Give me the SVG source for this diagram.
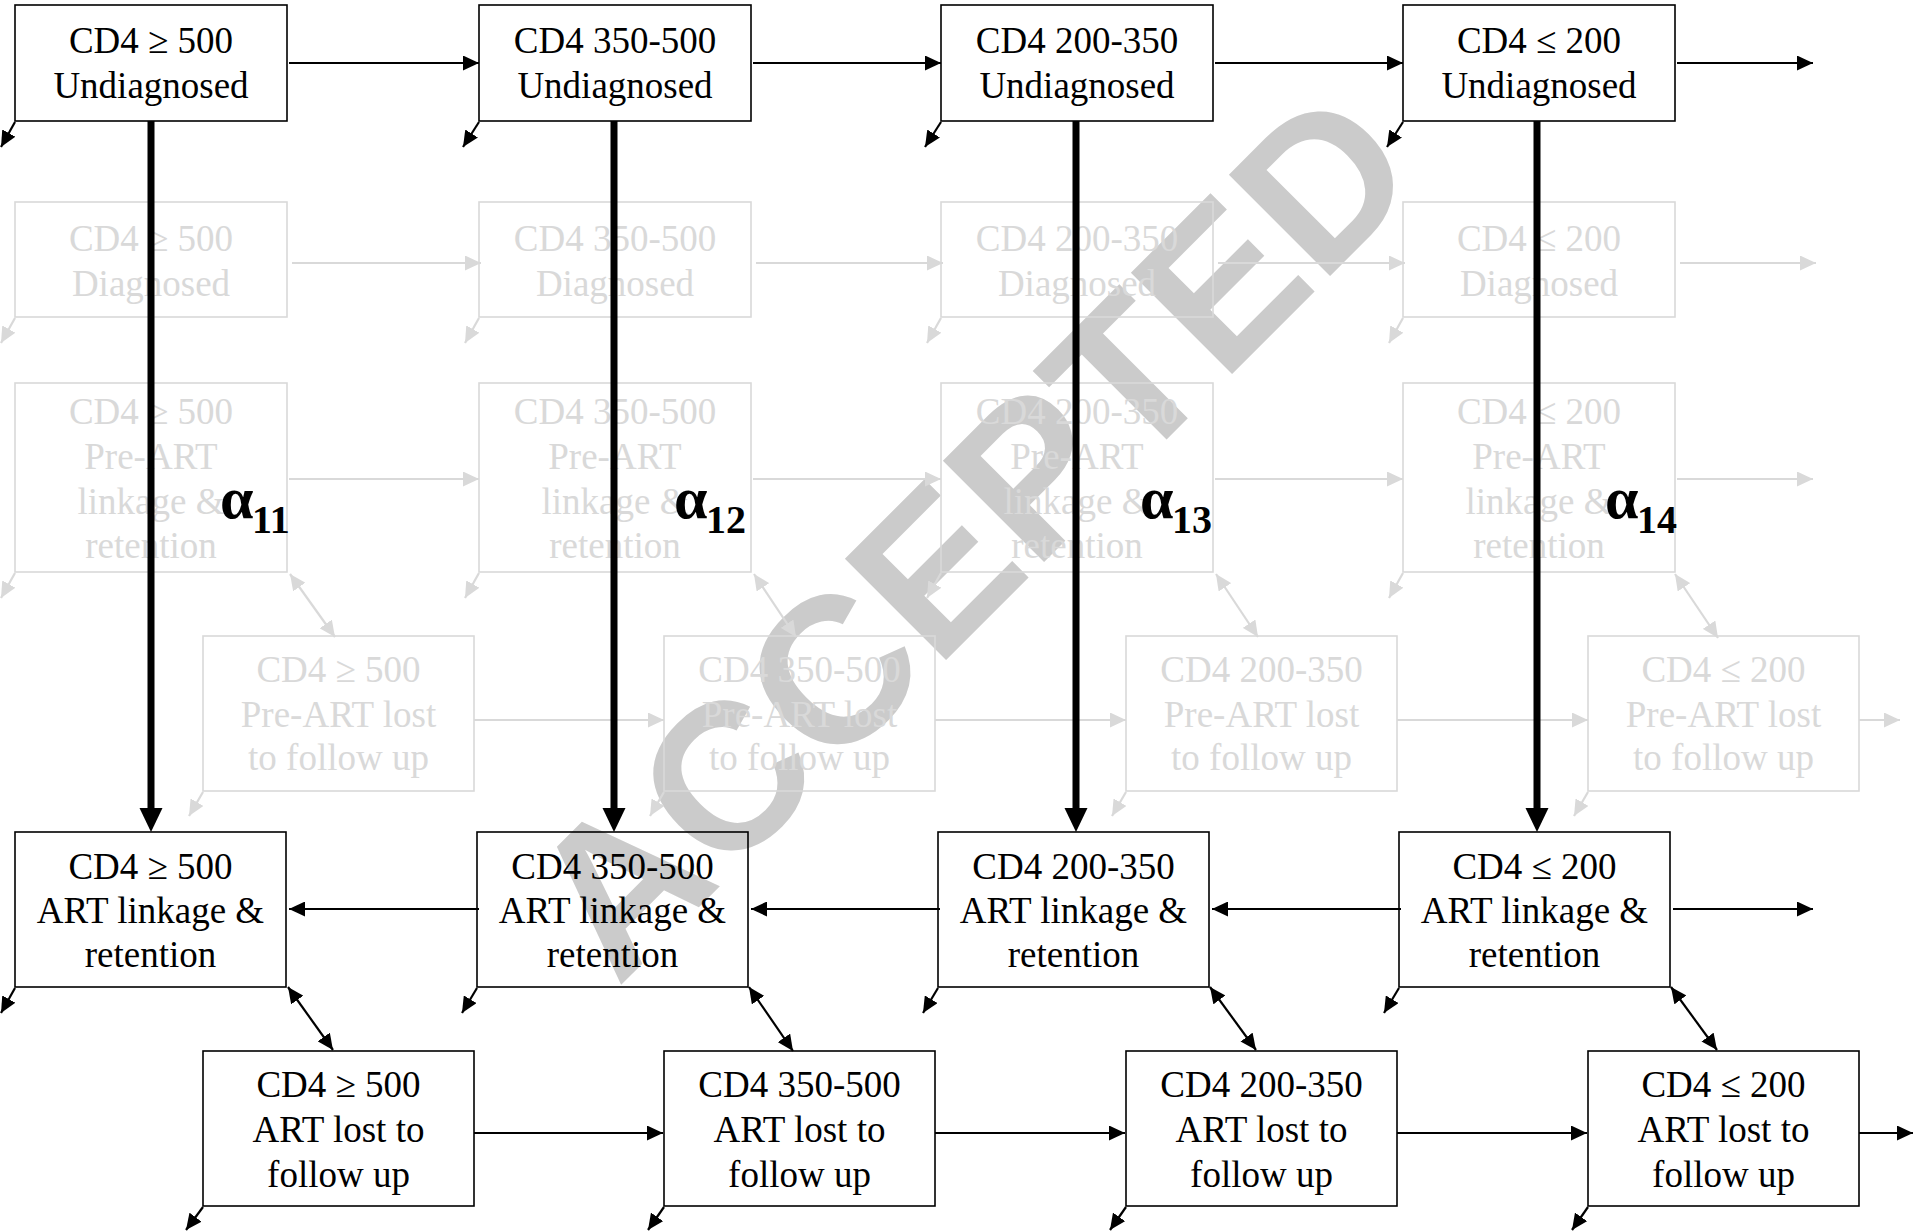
<svg xmlns="http://www.w3.org/2000/svg" width="1917" height="1231" viewBox="0 0 1917 1231">
<style>
  .bx{fill:none;stroke:#000;stroke-width:1.6}
  .fb{fill:none;stroke:#d9d9d9;stroke-width:1.6}
  .t{font-family:"Liberation Serif","Times New Roman",serif;font-size:37px;text-anchor:middle;fill:#000}
  .ft{font-family:"Liberation Serif","Times New Roman",serif;font-size:37px;text-anchor:middle;fill:#d9d9d9}
  .a{stroke:#000;stroke-width:2.2;fill:none;marker-end:url(#ah)}
  .d{stroke:#000;stroke-width:2.2;fill:none;marker-end:url(#ah);marker-start:url(#ah)}
  .ga{stroke:#d9d9d9;stroke-width:2.2;fill:none;marker-end:url(#gh)}
  .gd{stroke:#d9d9d9;stroke-width:2.2;fill:none;marker-end:url(#gh);marker-start:url(#gh)}
  .thick{stroke:#000;stroke-width:7;fill:none}
  .al{font-family:"Liberation Serif","Times New Roman",serif;font-weight:bold;fill:#000}
  .wm{font-family:"Liberation Sans",Arial,sans-serif;font-weight:bold;font-size:208px;text-anchor:middle;fill:#cbcbcb}
</style>
<defs>
  <marker id="ah" markerUnits="userSpaceOnUse" markerWidth="16" markerHeight="15" viewBox="0 0 16 15" refX="16" refY="7.5" orient="auto-start-reverse"><path d="M0,0 L16,7.5 L0,15 z" fill="#000"/></marker>
  <marker id="gh" markerUnits="userSpaceOnUse" markerWidth="16" markerHeight="15" viewBox="0 0 16 15" refX="16" refY="7.5" orient="auto-start-reverse"><path d="M0,0 L16,7.5 L0,15 z" fill="#d9d9d9"/></marker>
</defs>
<rect width="1917" height="1231" fill="#fff"/>
<text class="wm" transform="translate(1022,584) rotate(-45)">ACCEPTED</text>

<g id="faded-nodes">
  <g id="diag1"><rect class="fb" x="15" y="202" width="272" height="115"/><text class="ft" x="151" y="251">CD4 ≥ 500</text><text class="ft" x="151" y="296">Diagnosed</text></g>
  <g id="diag2"><rect class="fb" x="479" y="202" width="272" height="115"/><text class="ft" x="615" y="251">CD4 350-500</text><text class="ft" x="615" y="296">Diagnosed</text></g>
  <g id="diag3"><rect class="fb" x="941" y="202" width="272" height="115"/><text class="ft" x="1077" y="251">CD4 200-350</text><text class="ft" x="1077" y="296">Diagnosed</text></g>
  <g id="diag4"><rect class="fb" x="1403" y="202" width="272" height="115"/><text class="ft" x="1539" y="251">CD4 ≤ 200</text><text class="ft" x="1539" y="296">Diagnosed</text></g>

  <g id="prelink1"><rect class="fb" x="15" y="383" width="272" height="189"/><text class="ft" x="151" y="424">CD4 ≥ 500</text><text class="ft" x="151" y="469">Pre-ART</text><text class="ft" x="151" y="514">linkage &amp;</text><text class="ft" x="151" y="558">retention</text></g>
  <g id="prelink2"><rect class="fb" x="479" y="383" width="272" height="189"/><text class="ft" x="615" y="424">CD4 350-500</text><text class="ft" x="615" y="469">Pre-ART</text><text class="ft" x="615" y="514">linkage &amp;</text><text class="ft" x="615" y="558">retention</text></g>
  <g id="prelink3"><rect class="fb" x="941" y="383" width="272" height="189"/><text class="ft" x="1077" y="424">CD4 200-350</text><text class="ft" x="1077" y="469">Pre-ART</text><text class="ft" x="1077" y="514">linkage &amp;</text><text class="ft" x="1077" y="558">retention</text></g>
  <g id="prelink4"><rect class="fb" x="1403" y="383" width="272" height="189"/><text class="ft" x="1539" y="424">CD4 ≤ 200</text><text class="ft" x="1539" y="469">Pre-ART</text><text class="ft" x="1539" y="514">linkage &amp;</text><text class="ft" x="1539" y="558">retention</text></g>

  <g id="prelost1"><rect class="fb" x="203" y="636" width="271" height="155"/><text class="ft" x="338.5" y="682">CD4 ≥ 500</text><text class="ft" x="338.5" y="727">Pre-ART lost</text><text class="ft" x="338.5" y="770">to follow up</text></g>
  <g id="prelost2"><rect class="fb" x="664" y="636" width="271" height="155"/><text class="ft" x="799.5" y="682">CD4 350-500</text><text class="ft" x="799.5" y="727">Pre-ART lost</text><text class="ft" x="799.5" y="770">to follow up</text></g>
  <g id="prelost3"><rect class="fb" x="1126" y="636" width="271" height="155"/><text class="ft" x="1261.5" y="682">CD4 200-350</text><text class="ft" x="1261.5" y="727">Pre-ART lost</text><text class="ft" x="1261.5" y="770">to follow up</text></g>
  <g id="prelost4"><rect class="fb" x="1588" y="636" width="271" height="155"/><text class="ft" x="1723.5" y="682">CD4 ≤ 200</text><text class="ft" x="1723.5" y="727">Pre-ART lost</text><text class="ft" x="1723.5" y="770">to follow up</text></g>
</g>

<g id="faded-connectors">
  <path class="ga" d="M292,263 H481"/><path class="ga" d="M756,263 H943"/><path class="ga" d="M1218,263 H1405"/><path class="ga" d="M1680,263 H1816"/>
  <path class="ga" d="M289,479 H479"/><path class="ga" d="M753,479 H941"/><path class="ga" d="M1215,479 H1403"/><path class="ga" d="M1677,479 H1813"/>
  <path class="ga" d="M474,720 H664"/><path class="ga" d="M935,720 H1126"/><path class="ga" d="M1397,720 H1588"/><path class="ga" d="M1859,720 H1900"/>
  <path class="ga" d="M15,318 L1,343"/><path class="ga" d="M479,318 L465,343"/><path class="ga" d="M941,318 L927,343"/><path class="ga" d="M1403,318 L1389,343"/>
  <path class="ga" d="M15,573 L1,598"/><path class="ga" d="M479,573 L465,598"/><path class="ga" d="M941,573 L927,598"/><path class="ga" d="M1403,573 L1389,598"/>
  <path class="ga" d="M203,792 L189,816"/><path class="ga" d="M664,792 L650,816"/><path class="ga" d="M1126,792 L1112,816"/><path class="ga" d="M1588,792 L1574,816"/>
  <path class="gd" d="M290,574 L335,637"/><path class="gd" d="M754,574 L796,637"/><path class="gd" d="M1216,574 L1258,637"/><path class="gd" d="M1675,574 L1718,638"/>
</g>

<g id="undiag1"><rect class="bx" x="15" y="5" width="272" height="116"/><text class="t" x="151" y="53">CD4 ≥ 500</text><text class="t" x="151" y="98">Undiagnosed</text></g>
<g id="undiag2"><rect class="bx" x="479" y="5" width="272" height="116"/><text class="t" x="615" y="53">CD4 350-500</text><text class="t" x="615" y="98">Undiagnosed</text></g>
<g id="undiag3"><rect class="bx" x="941" y="5" width="272" height="116"/><text class="t" x="1077" y="53">CD4 200-350</text><text class="t" x="1077" y="98">Undiagnosed</text></g>
<g id="undiag4"><rect class="bx" x="1403" y="5" width="272" height="116"/><text class="t" x="1539" y="53">CD4 ≤ 200</text><text class="t" x="1539" y="98">Undiagnosed</text></g>

<g id="artlink1"><rect class="bx" x="15" y="832" width="271" height="155"/><text class="t" x="150.5" y="879">CD4 ≥ 500</text><text class="t" x="150.5" y="923">ART linkage &amp;</text><text class="t" x="150.5" y="967">retention</text></g>
<g id="artlink2"><rect class="bx" x="477" y="832" width="271" height="155"/><text class="t" x="612.5" y="879">CD4 350-500</text><text class="t" x="612.5" y="923">ART linkage &amp;</text><text class="t" x="612.5" y="967">retention</text></g>
<g id="artlink3"><rect class="bx" x="938" y="832" width="271" height="155"/><text class="t" x="1073.5" y="879">CD4 200-350</text><text class="t" x="1073.5" y="923">ART linkage &amp;</text><text class="t" x="1073.5" y="967">retention</text></g>
<g id="artlink4"><rect class="bx" x="1399" y="832" width="271" height="155"/><text class="t" x="1534.5" y="879">CD4 ≤ 200</text><text class="t" x="1534.5" y="923">ART linkage &amp;</text><text class="t" x="1534.5" y="967">retention</text></g>

<g id="artlost1"><rect class="bx" x="203" y="1051" width="271" height="155"/><text class="t" x="338.5" y="1097">CD4 ≥ 500</text><text class="t" x="338.5" y="1142">ART lost to</text><text class="t" x="338.5" y="1187">follow up</text></g>
<g id="artlost2"><rect class="bx" x="664" y="1051" width="271" height="155"/><text class="t" x="799.5" y="1097">CD4 350-500</text><text class="t" x="799.5" y="1142">ART lost to</text><text class="t" x="799.5" y="1187">follow up</text></g>
<g id="artlost3"><rect class="bx" x="1126" y="1051" width="271" height="155"/><text class="t" x="1261.5" y="1097">CD4 200-350</text><text class="t" x="1261.5" y="1142">ART lost to</text><text class="t" x="1261.5" y="1187">follow up</text></g>
<g id="artlost4"><rect class="bx" x="1588" y="1051" width="271" height="155"/><text class="t" x="1723.5" y="1097">CD4 ≤ 200</text><text class="t" x="1723.5" y="1142">ART lost to</text><text class="t" x="1723.5" y="1187">follow up</text></g>

<g id="connectors">
  <path class="a" d="M289,63 H479"/><path class="a" d="M753,63 H941"/><path class="a" d="M1215,63 H1403"/><path class="a" d="M1677,63 H1813"/>
  <path class="a" d="M15,122 L1,147"/><path class="a" d="M479,122 L463,147"/><path class="a" d="M941,122 L925,147"/><path class="a" d="M1403,122 L1387,147"/>
  <path class="a" d="M479,909 H289"/><path class="a" d="M940,909 H751"/><path class="a" d="M1401,909 H1212"/><path class="a" d="M1673,909 H1813"/>
  <path class="a" d="M15,988 L1,1013"/><path class="a" d="M477,988 L462,1013"/><path class="a" d="M938,988 L923,1013"/><path class="a" d="M1399,988 L1384,1013"/>
  <path class="d" d="M288,987 L333,1050"/><path class="d" d="M749,987 L793,1051"/><path class="d" d="M1210,987 L1256,1050"/><path class="d" d="M1671,987 L1717,1050"/>
  <path class="a" d="M474,1133 H663"/><path class="a" d="M935,1133 H1125"/><path class="a" d="M1397,1133 H1587"/><path class="a" d="M1859,1133 H1913"/>
  <path class="a" d="M203,1207 L186,1230"/><path class="a" d="M664,1207 L648,1230"/><path class="a" d="M1126,1207 L1110,1230"/><path class="a" d="M1588,1207 L1572,1230"/>
  <g id="alpha-arrows">
    <path class="thick" d="M151,121 V810"/><path d="M139.5,808 L162.5,808 L151,832 z"/>
    <path class="thick" d="M614,121 V810"/><path d="M602.5,808 L625.5,808 L614,832 z"/>
    <path class="thick" d="M1076,121 V810"/><path d="M1064.5,808 L1087.5,808 L1076,832 z"/>
    <path class="thick" d="M1537,121 V810"/><path d="M1525.5,808 L1548.5,808 L1537,832 z"/>
  </g>
  <g id="alpha-labels">
    <text class="al" x="220" y="518" font-size="60">α</text><text class="al" x="252" y="533" font-size="40">11</text>
    <text class="al" x="674" y="518" font-size="60">α</text><text class="al" x="706" y="533" font-size="40">12</text>
    <text class="al" x="1140" y="518" font-size="60">α</text><text class="al" x="1172" y="533" font-size="40">13</text>
    <text class="al" x="1605" y="518" font-size="60">α</text><text class="al" x="1637" y="533" font-size="40">14</text>
  </g>
</g>
</svg>
